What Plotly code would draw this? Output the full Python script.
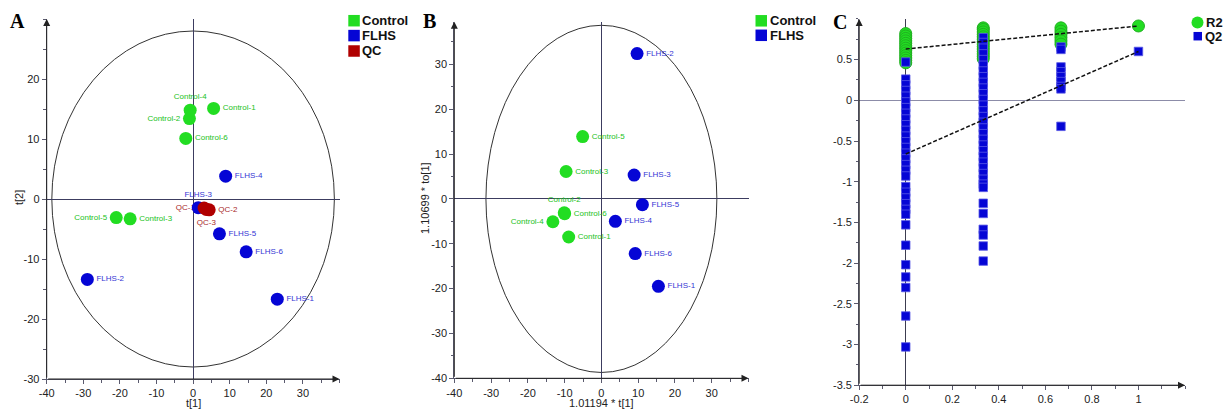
import plotly.graph_objects as go

W, H = 1224, 409
FONT = "Liberation Sans, Arial, sans-serif"
SERIF = "Liberation Serif, Times New Roman, serif"

# ---------------- data: panel A (PCA scores) ----------------
A_ctrl_names = ["Control-1", "Control-2", "Control-3", "Control-4", "Control-5", "Control-6"]
A_ctrl_t1 = [5.6, -1.0, -17.2, -0.8, -21.0, -2.0]
A_ctrl_t2 = [15.1, 13.4, -3.3, 14.8, -3.1, 10.1]
A_flhs_names = ["FLHS-1", "FLHS-2", "FLHS-3", "FLHS-4", "FLHS-5", "FLHS-6"]
A_flhs_t1 = [23.0, -28.9, 1.4, 8.9, 7.2, 14.5]
A_flhs_t2 = [-16.7, -13.4, -1.45, 3.8, -5.8, -8.8]
A_qc_names = ["QC-1", "QC-2", "QC-3"]
A_qc_t1 = [3.0, 4.4, 3.6]
A_qc_t2 = [-1.5, -1.8, -1.75]
A_ellipse = (38.6, 28.0)

# ---------------- data: panel B (OPLS-DA scores) ----------------
B_ctrl_names = ["Control-1", "Control-2", "Control-3", "Control-4", "Control-5", "Control-6"]
B_ctrl_t1 = [-8.9, -10.1, -9.6, -13.2, -5.1, -10.0]
B_ctrl_to1 = [-8.5, -3.1, 6.1, -5.1, 13.9, -3.3]
B_flhs_names = ["FLHS-1", "FLHS-2", "FLHS-3", "FLHS-4", "FLHS-5", "FLHS-6"]
B_flhs_t1 = [15.5, 9.7, 8.9, 3.8, 11.15, 9.2]
B_flhs_to1 = [-19.5, 32.4, 5.3, -5.0, -1.3, -12.2]
B_ellipse = (31.4, 38.7)

# ---------------- data: panel C (permutation test) ----------------
perm_levels = [0.0, 0.333, 0.667, 1.0]
R2_at_0 = [0.82, 0.79, 0.76, 0.73, 0.70, 0.67, 0.64, 0.61, 0.58, 0.55, 0.52, 0.49, 0.46]
R2_at_033 = [0.89, 0.87, 0.84, 0.81, 0.78, 0.75, 0.72, 0.69, 0.66, 0.63, 0.60, 0.57, 0.54, 0.51]
R2_at_067 = [0.89, 0.85, 0.81, 0.77, 0.73, 0.69]
R2_at_1 = [0.913]
Q2_at_0 = [0.47, 0.26, 0.19, 0.12, 0.05, -0.02, -0.09, -0.16, -0.23, -0.30, -0.37, -0.44,
           -0.51, -0.58, -0.65, -0.72, -0.79, -0.86, -0.93, -1.06, -1.13, -1.20, -1.27,
           -1.34, -1.40, -1.53, -1.78, -2.02, -2.17, -2.30, -2.65, -3.03]
Q2_at_033 = [0.77, 0.71, 0.64, 0.57, 0.50, 0.43, 0.36, 0.29, 0.22, 0.15, 0.08, 0.01, -0.06,
             -0.13, -0.20, -0.27, -0.34, -0.41, -0.48, -0.55, -0.62, -0.69, -0.76, -0.83,
             -0.90, -0.97, -1.03, -1.07, -1.265, -1.39, -1.585, -1.655, -1.79, -1.975]
Q2_at_067 = [0.655, 0.625, 0.41, 0.35, 0.29, 0.23, 0.17, 0.14, -0.32]
Q2_at_1 = [0.60]
R2_intercept = 0.63
Q2_intercept = -0.66

# ---------------- styles ----------------
GREEN = "#22dd22"
BLUE = "#0505d5"
RED = "#b00000"
GREEN_T = "#22c222"
BLUE_T = "#3434d4"
RED_T = "#a82828"
AXC = "#5a5a6e"
ZLC = "#3c3c60"


def px(x):
    return x / W


def py(y):
    return 1 - y / H


fig = go.Figure()


def add_labels(x, y, names, pos, color, xa, ya):
    fig.add_trace(go.Scatter(
        x=x, y=y, mode="markers+text", text=names, textposition=pos,
        marker=dict(size=13, opacity=0), textfont=dict(size=8, color=color, family=FONT),
        xaxis=xa, yaxis=ya, hoverinfo="skip", showlegend=False, cliponaxis=False))


def add_points(x, y, color, xa, ya, size=13, symbol="circle", line=None):
    fig.add_trace(go.Scatter(
        x=x, y=y, mode="markers",
        marker=dict(size=size, color=color, symbol=symbol,
                    line=line if line else dict(width=0)),
        xaxis=xa, yaxis=ya, showlegend=False, cliponaxis=False))


# Panel A
add_labels(A_ctrl_t1, A_ctrl_t2, A_ctrl_names,
           ["middle right", "middle left", "middle right", "top center", "middle left", "middle right"],
           GREEN_T, "x", "y")
add_labels(A_flhs_t1, A_flhs_t2, A_flhs_names,
           ["middle right", "middle right", "top center", "middle right", "middle right", "middle right"],
           BLUE_T, "x", "y")
add_labels(A_qc_t1, A_qc_t2, A_qc_names, ["middle left", "middle right", "bottom center"], RED_T, "x", "y")
add_points(A_ctrl_t1, A_ctrl_t2, GREEN, "x", "y")
add_points(A_flhs_t1, A_flhs_t2, BLUE, "x", "y")
add_points(A_qc_t1, A_qc_t2, RED, "x", "y")

# Panel B
add_labels(B_ctrl_t1, B_ctrl_to1, B_ctrl_names,
           ["middle right", "top center", "middle right", "middle left", "middle right", "middle right"],
           GREEN_T, "x2", "y2")
add_labels(B_flhs_t1, B_flhs_to1, B_flhs_names, ["middle right"] * 6, BLUE_T, "x2", "y2")
add_points(B_ctrl_t1, B_ctrl_to1, GREEN, "x2", "y2")
add_points(B_flhs_t1, B_flhs_to1, BLUE, "x2", "y2")

# Panel C
R2_cols = [R2_at_0, R2_at_033, R2_at_067, R2_at_1]
Q2_cols = [Q2_at_0, Q2_at_033, Q2_at_067, Q2_at_1]
r2x, r2y, q2x, q2y = [], [], [], []
for lvl, col in zip(perm_levels, R2_cols):
    r2x += [lvl] * len(col)
    r2y += col
for lvl, col in zip(perm_levels, Q2_cols):
    q2x += [lvl] * len(col)
    q2y += col
add_points(r2x, r2y, GREEN, "x3", "y3", size=12, line=dict(width=1, color="#20b020"))
add_points(q2x, q2y, BLUE, "x3", "y3", size=8.5, symbol="square", line=dict(width=0.8, color="#5a5ae6"))
fig.add_trace(go.Scatter(x=[perm_levels[0], perm_levels[-1]], y=[R2_intercept, R2_at_1[0]],
                         mode="lines", line=dict(color="#111", width=1.5, dash="4px,2px"),
                         xaxis="x3", yaxis="y3", showlegend=False, hoverinfo="skip"))
fig.add_trace(go.Scatter(x=[perm_levels[0], perm_levels[-1]], y=[Q2_intercept, Q2_at_1[0]],
                         mode="lines", line=dict(color="#111", width=1.5, dash="4px,2px"),
                         xaxis="x3", yaxis="y3", showlegend=False, hoverinfo="skip"))

# ---------------- axes ----------------
tickfont = dict(size=11, color="#222", family=FONT)


def axis(domain, rng, tickvals, ticktext, anchor, minor_dtick, minor_tick0, zlc=ZLC):
    return dict(domain=domain, range=rng, tickmode="array", tickvals=tickvals, ticktext=ticktext,
                anchor=anchor, showgrid=False, zeroline=True, zerolinecolor=zlc, zerolinewidth=1,
                showline=True, linecolor=AXC, linewidth=1, ticks="outside", ticklen=4,
                tickcolor=AXC, tickfont=tickfont, fixedrange=True, automargin=False,
                minor=dict(tickmode="linear", tick0=minor_tick0, dtick=minor_dtick,
                           ticks="outside", ticklen=2.5, tickcolor=AXC, showgrid=False))


A_xt = [-40, -30, -20, -10, 0, 10, 20, 30]
A_yt = [-30, -20, -10, 0, 10, 20]
B_yt = [-40, -30, -20, -10, 0, 10, 20, 30]
C_xt = [-0.2, 0, 0.2, 0.4, 0.6, 0.8, 1]
C_yt = [-3.5, -3, -2.5, -2, -1.5, -1, -0.5, 0, 0.5]

fig.update_layout(
    xaxis=axis([px(46.7), px(339.5)], [-40, 40], A_xt, [str(v) for v in A_xt], "y", 5, -40),
    yaxis=axis([py(379), py(19)], [-30, 30], A_yt, [str(v) for v in A_yt], "x", 5, -30),
    xaxis2=axis([px(454.3), px(748.5)], [-40, 40], A_xt, [str(v) for v in A_xt], "y2", 5, -40),
    yaxis2=axis([py(378.3), py(21.7)], [-40, 39.5], B_yt, [str(v) for v in B_yt], "x2", 5, -40),
    xaxis3=axis([px(859.2), px(1185)], [-0.2, 1.2], C_xt, [f"{v:g}" for v in C_xt], "y3", 0.1, -0.2,
                zlc="#3c3c50"),
    yaxis3=axis([py(385.2), py(18.9)], [-3.5, 1.0], C_yt, [f"{v:g}" for v in C_yt], "x3", 0.25, -3.5,
                zlc="#8c8ca8"),
)

# ---------------- shapes: ellipses + legends ----------------
shapes = [
    dict(type="circle", xref="x", yref="y", x0=-A_ellipse[0], x1=A_ellipse[0],
         y0=-A_ellipse[1], y1=A_ellipse[1], line=dict(color="#333", width=1), layer="below"),
    dict(type="circle", xref="x2", yref="y2", x0=-B_ellipse[0], x1=B_ellipse[0],
         y0=-B_ellipse[1], y1=B_ellipse[1], line=dict(color="#333", width=1), layer="below"),
]
annotations = []


def legend_item(x, yc, color, label, symbol="rect", s=11.5):
    shapes.append(dict(type=symbol, xref="paper", yref="paper",
                       x0=px(x), x1=px(x + s), y0=py(yc + s / 2), y1=py(yc - s / 2),
                       fillcolor=color, line=dict(width=0)))
    annotations.append(dict(x=px(x + s + 1.5), y=py(yc), xref="paper", yref="paper",
                            text=f"<b>{label}</b>", showarrow=False, xanchor="left",
                            yanchor="middle", borderpad=0,
                            font=dict(size=13, color="#111", family=FONT)))


legend_item(348.3, 20.7, GREEN, "Control")
legend_item(348.3, 35.6, BLUE, "FLHS")
legend_item(348.3, 51.0, RED, "QC")
legend_item(755.5, 20.8, GREEN, "Control")
legend_item(755.5, 35.3, BLUE, "FLHS")
legend_item(1191.5, 22.5, GREEN, "R2", symbol="circle", s=12)
legend_item(1193.5, 36.2, BLUE, "Q2", s=8.5)

# axis arrows
for xa, ya, x0, x1, y0, y1 in [("x", "y", -40, 40, -30, 30),
                               ("x2", "y2", -40, 40, -40, 39.5),
                               ("x3", "y3", -0.2, 1.2, -3.5, 1.0)]:
    annotations.append(dict(x=x1, y=y0, ax=x0, ay=y0, xref=xa, yref=ya, axref=xa, ayref=ya,
                            text="", showarrow=True, arrowhead=2, arrowsize=1.4, arrowwidth=1,
                            arrowcolor="#222", standoff=0))
    annotations.append(dict(x=x0, y=y1, ax=x0, ay=y0, xref=xa, yref=ya, axref=xa, ayref=ya,
                            text="", showarrow=True, arrowhead=2, arrowsize=1.4, arrowwidth=1,
                            arrowcolor="#222", standoff=0))

# panel letters and axis titles
for letter, x, y in [("A", 17.5, 21), ("B", 430, 21), ("C", 839.5, 22)]:
    annotations.append(dict(x=px(x), y=py(y), xref="paper", yref="paper", text=f"<b>{letter}</b>",
                            showarrow=False, xanchor="center", yanchor="middle",
                            font=dict(size=20, color="#000", family=SERIF)))

title_font = dict(size=11, color="#222", family=FONT)
for text, x, y, ang in [("t[1]", 193, 403, 0), ("t[2]", 19, 198, -90),
                        ("1.01194 * t[1]", 601, 403, 0), ("1.10699 * to[1]", 425, 198, -90)]:
    annotations.append(dict(x=px(x), y=py(y), xref="paper", yref="paper", text=text,
                            showarrow=False, xanchor="center", yanchor="middle", textangle=ang,
                            font=title_font))

fig.update_layout(
    shapes=shapes, annotations=annotations,
    width=W, height=H, margin=dict(l=0, r=0, t=0, b=0),
    paper_bgcolor="white", plot_bgcolor="white", showlegend=False,
    font=dict(family=FONT),
)

fig.write_html("out.html")
